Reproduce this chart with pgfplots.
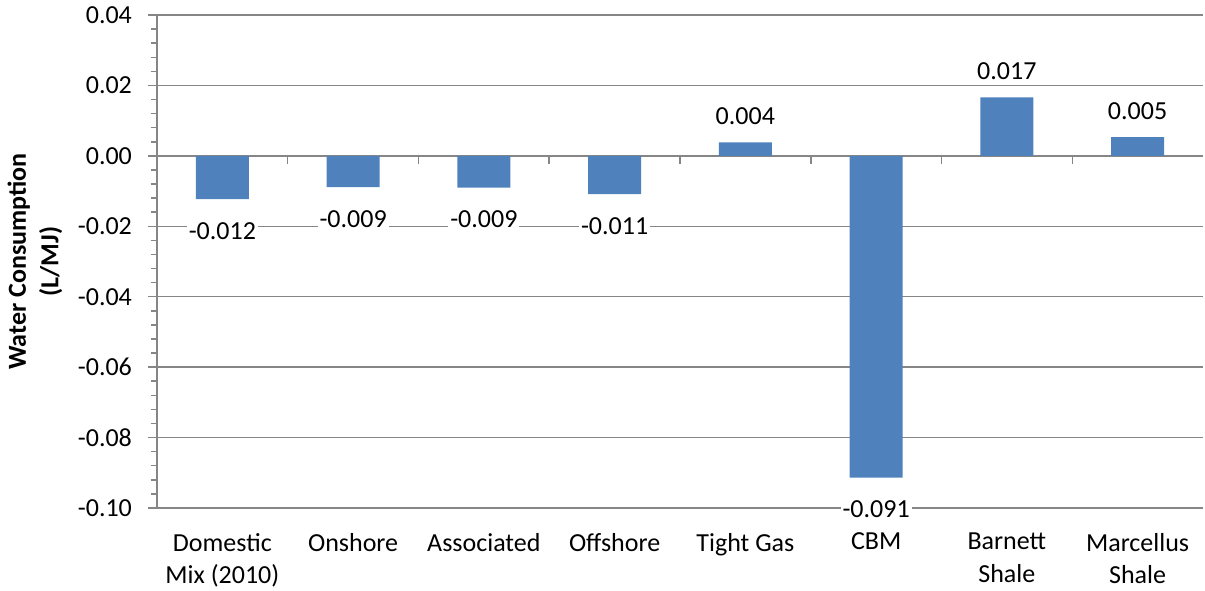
\documentclass[border=0pt]{standalone}
\usepackage{fontspec}
\setmainfont{Carlito}
\usepackage{pgfplots}
\pgfplotsset{compat=1.18}

\definecolor{barblue}{HTML}{4F81BD}
\definecolor{gridgray}{HTML}{868686}

\newcommand{\lbl}{\fontsize{13}{16.3}\selectfont}

\begin{document}
\begin{tikzpicture}
\begin{axis}[
  at={(0,0)}, anchor=south west,
  scale only axis,
  width=523pt, height=246.5pt,
  xmin=-0.5, xmax=7.5,
  ymin=-0.1, ymax=0.04,
  axis y line*=left,
  axis x line*=bottom,
  x axis line style={draw=none},
  y axis line style={gridgray, line width=0.75pt},
  xtick={0,1,2,3,4,5,6,7},
  xticklabels={{Domestic\\Mix (2010)},Onshore,Associated,Offshore,
               Tight Gas,CBM,{Barnett\\Shale},{Marcellus\\Shale}},
  major x tick style={draw=none},
  xticklabel style={align=center, font=\lbl, anchor=north, yshift=-4.5pt},
  ytick={-0.1,-0.08,-0.06,-0.04,-0.02,0,0.02,0.04},
  yticklabels={-0.10,-0.08,-0.06,-0.04,-0.02,0.00,0.02,0.04},
  yticklabel style={font=\lbl, xshift=-4.5pt},
  minor y tick num=4,
  tick align=outside,
  major tick length=4.5pt,
  minor tick length=3pt,
  tick style={gridgray, line width=0.75pt},
  ymajorgrids,
  major grid style={gridgray, line width=0.75pt},
  ylabel={Water Consumption\\(L/MJ)},
  every axis y label/.style={at={(axis description cs:0,0.5)}, xshift=-61pt,
    rotate=90, anchor=center, align=center, font=\lbl\bfseries},
  clip=false,
]
% horizontal axis at zero with category separators
\draw[gridgray, line width=0.75pt] (axis cs:-0.5,0) -- (axis cs:7.5,0);
\draw[gridgray, line width=0.75pt]
  (axis cs:0.5,0) -- ([yshift=-4pt]axis cs:0.5,0)
  (axis cs:1.5,0) -- ([yshift=-4pt]axis cs:1.5,0)
  (axis cs:2.5,0) -- ([yshift=-4pt]axis cs:2.5,0)
  (axis cs:3.5,0) -- ([yshift=-4pt]axis cs:3.5,0)
  (axis cs:4.5,0) -- ([yshift=-4pt]axis cs:4.5,0)
  (axis cs:5.5,0) -- ([yshift=-4pt]axis cs:5.5,0)
  (axis cs:6.5,0) -- ([yshift=-4pt]axis cs:6.5,0);

% negative bars
\addplot[ybar, bar width=26.5pt, bar shift=0pt, fill=barblue, draw=none,
  point meta=explicit symbolic, nodes near coords,
  every node near coord/.append style={anchor=north, yshift=-10.5pt,
    fill=white, inner sep=1pt, font=\lbl, text=black}]
  coordinates {(0,-0.0123) [-0.012] (1,-0.0089) [-0.009] (2,-0.0090) [-0.009]
               (3,-0.0109) [-0.011] (5,-0.0914) [-0.091]};
% positive bars
\addplot[ybar, bar width=26.5pt, bar shift=0pt, fill=barblue, draw=none,
  point meta=explicit symbolic, nodes near coords,
  every node near coord/.append style={anchor=south, yshift=7.5pt,
    fill=white, inner sep=1pt, font=\lbl, text=black}]
  coordinates {(4,0.0038) [0.004] (6,0.0166) [0.017] (7,0.0053) [0.005]};
\end{axis}
\pgfresetboundingbox
\useasboundingbox (-78.5pt,-41pt) rectangle (524pt,254pt);
\end{tikzpicture}
\end{document}
